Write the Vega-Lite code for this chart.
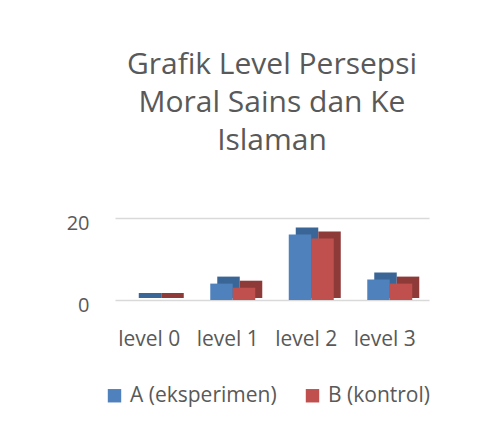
{
  "$schema": "https://vega.github.io/schema/vega-lite/v6.json",
  "width": 314,
  "height": 82,
  "padding": {"left": 66, "top": 50, "right": 10, "bottom": 5},
  "background": "white",
  "config": {
    "view": {"stroke": null},
    "font": "Open Sans"
  },
  "title": {
    "text": ["Grafik Level Persepsi", "Moral Sains dan Ke", "Islaman"],
    "font": "Open Sans",
    "fontSize": 30,
    "fontWeight": "normal",
    "color": "#595959",
    "lineHeight": 38,
    "anchor": "middle",
    "offset": 57
  },
  "data": {
    "values": [
      {"level": "level 0", "group": "A (eksperimen)", "value": 0},
      {"level": "level 0", "group": "B (kontrol)", "value": 0},
      {"level": "level 1", "group": "A (eksperimen)", "value": 4},
      {"level": "level 1", "group": "B (kontrol)", "value": 3},
      {"level": "level 2", "group": "A (eksperimen)", "value": 16},
      {"level": "level 2", "group": "B (kontrol)", "value": 15},
      {"level": "level 3", "group": "A (eksperimen)", "value": 5},
      {"level": "level 3", "group": "B (kontrol)", "value": 4}
    ]
  },
  "encoding": {
    "x": {
      "field": "level",
      "type": "nominal",
      "title": null,
      "scale": {"paddingInner": 0.427, "paddingOuter": 0.2135},
      "axis": {
        "labelAngle": 0,
        "labelFontSize": 21,
        "labelColor": "#595959",
        "labelPadding": 28,
        "labelOffset": -5,
        "ticks": false,
        "domain": false
      }
    },
    "y": {
      "field": "value",
      "type": "quantitative",
      "title": null,
      "stack": null,
      "scale": {"domain": [0, 20], "nice": false},
      "axis": {
        "values": [0, 20],
        "labelFontSize": 20,
        "labelColor": "#595959",
        "labelPadding": 26,
        "labelOffset": 5,
        "ticks": false,
        "domain": false,
        "gridColor": "#d9d9d9",
        "gridWidth": 1.5
      }
    }
  },
  "layer": [
    {
      "mark": {"type": "bar", "yOffset": -7, "y2Offset": -2},
      "encoding": {
        "y2": {"datum": 0},
        "xOffset": {
          "field": "group",
          "type": "nominal",
          "scale": {"range": [7, 52]}
        },
        "color": {
          "field": "group",
          "type": "nominal",
          "scale": {"range": ["#3a6697", "#8e3a38"]},
          "legend": null
        }
      }
    },
    {
      "mark": {"type": "bar"},
      "encoding": {
        "xOffset": {"field": "group", "type": "nominal"},
        "color": {
          "field": "group",
          "type": "nominal",
          "title": null,
          "scale": {"range": ["#4f81bd", "#c0504d"]},
          "legend": {
            "orient": "none",
            "legendX": -11,
            "legendY": 167,
            "direction": "horizontal",
            "symbolType": "square",
            "symbolSize": 180,
            "symbolStrokeWidth": 0,
            "labelFontSize": 21,
            "labelColor": "#595959",
            "labelOffset": 5,
            "columnPadding": 25
          }
        }
      }
    }
  ],
  "resolve": {"scale": {"color": "independent", "xOffset": "independent"}}
}
